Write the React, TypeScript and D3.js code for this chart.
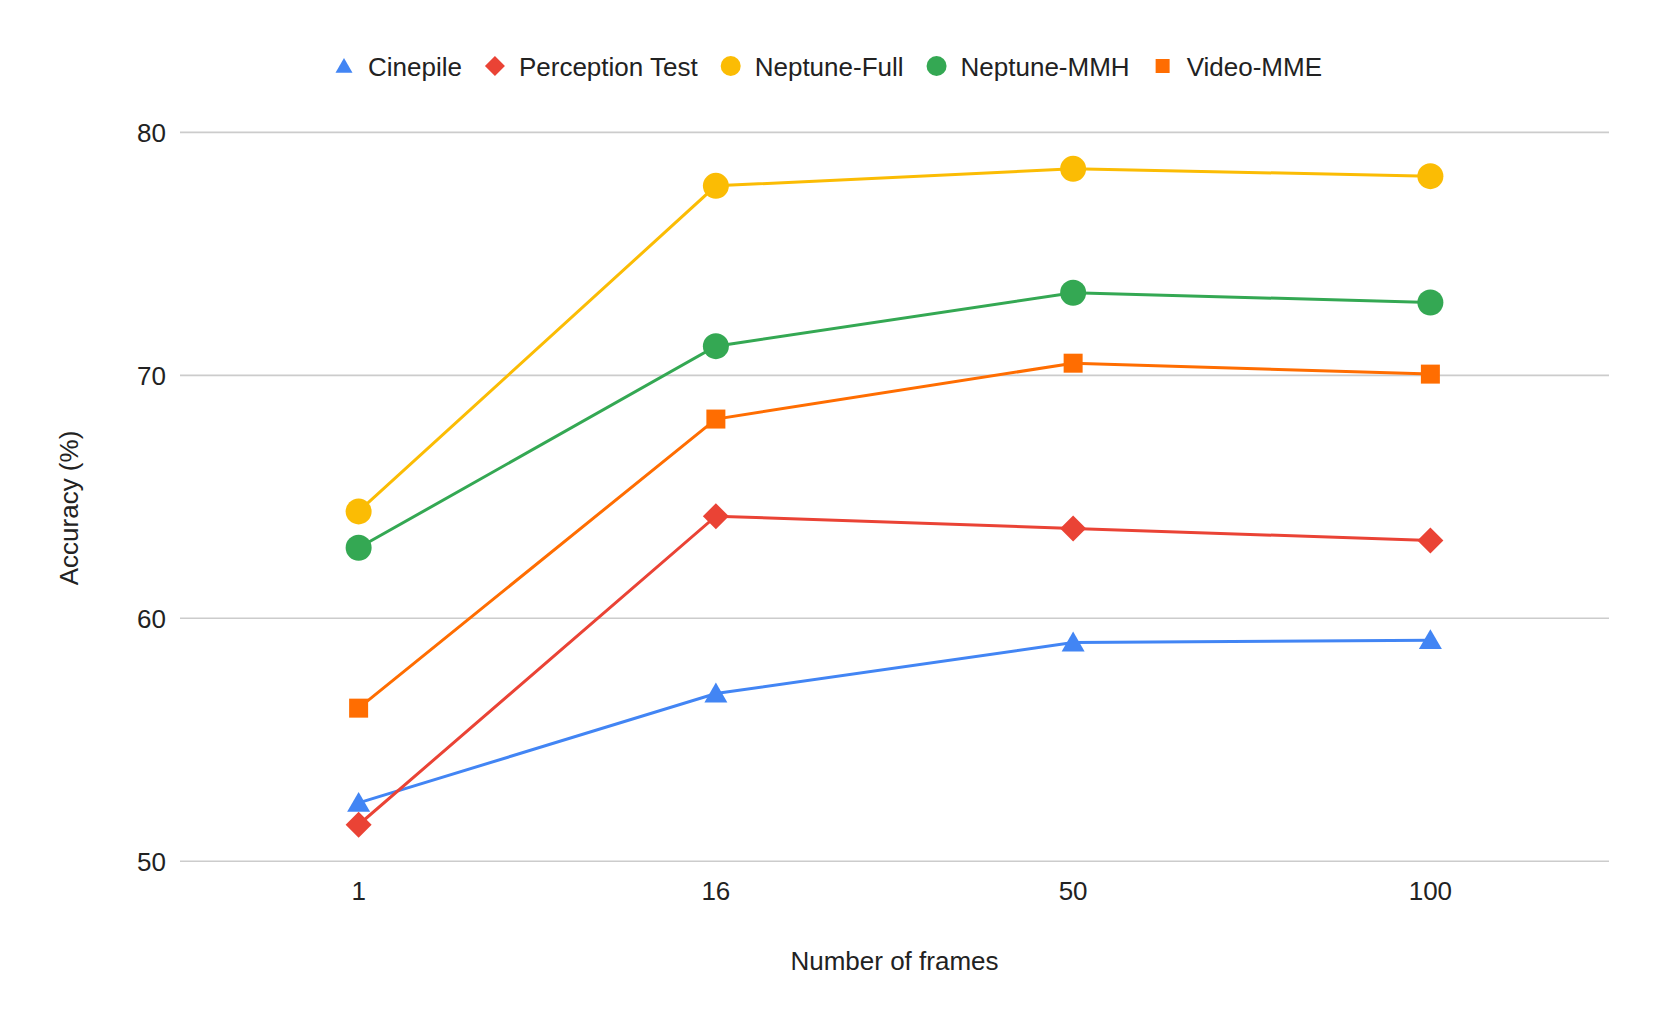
import React, { useRef, useEffect } from 'react';
import * as d3 from 'd3';

const frames = ['1', '16', '50', '100'];
const seriesNames = ['Cinepile', 'Perception Test', 'Neptune-Full', 'Neptune-MMH', 'Video-MME'];
const cinepile = [52.4, 56.9, 59.0, 59.1];
const perceptionTest = [51.5, 64.2, 63.7, 63.2];
const neptuneFull = [64.4, 77.8, 78.5, 78.2];
const neptuneMMH = [62.9, 71.2, 73.4, 73.0];
const videoMME = [56.3, 68.2, 70.5, 70.05];
const yTicks = [50, 60, 70, 80];

const colors = ['#4285F4', '#EA4335', '#FBBC04', '#34A853', '#FF6D01'];
const shapes = ['triangle', 'diamond', 'circle', 'circle', 'square'];

const W = 1661;
const H = 1028;
const FONT = '"Liberation Sans", Arial, sans-serif';
const FS = '26px';

// path for a marker centred on 0,0; size is the full width
const markerPath = (shape: string, size: number) => {
    if (shape === 'circle') return d3.symbol(d3.symbolCircle, Math.PI * (size / 2) ** 2)()!;
    if (shape === 'square') return d3.symbol(d3.symbolSquare, size * size)()!;
    if (shape === 'diamond') {
        const h = size / 2;
        return `M0,${-h}L${h},0L0,${h}L${-h},0Z`;
    }
    const s = size;
    const hgt = (Math.sqrt(3) / 2) * s;
    return `M0,${-hgt * 0.55}L${s / 2},${hgt * 0.45}L${-s / 2},${hgt * 0.45}Z`;
};

const plotSize: Record<string, number> = { triangle: 23, diamond: 26, circle: 26, square: 19 };
const legendSize: Record<string, number> = { triangle: 17, diamond: 20, circle: 20, square: 14 };

const App: React.FC = () => {
    const svgRef = useRef<SVGSVGElement | null>(null);

    useEffect(() => {
        const svg = d3.select(svgRef.current);
        svg.selectAll('*').remove();

        const left = 180;
        const right = 1609;
        const top = 132.4;
        const bottom = 861.2;

        const series = [cinepile, perceptionTest, neptuneFull, neptuneMMH, videoMME].map((values, i) => ({
            name: seriesNames[i],
            color: colors[i],
            shape: shapes[i],
            values,
        }));

        const x = d3.scalePoint().domain(frames).range([left, right]).padding(0.5);
        const y = d3.scaleLinear().domain([50, 80]).range([bottom, top]);

        // gridlines
        svg.append('g')
            .selectAll('line')
            .data(yTicks)
            .enter()
            .append('line')
            .attr('x1', left)
            .attr('x2', right)
            .attr('y1', d => y(d))
            .attr('y2', d => y(d))
            .attr('stroke', '#cccccc')
            .attr('stroke-width', 1.6);

        // y tick labels
        svg.append('g')
            .selectAll('text')
            .data(yTicks)
            .enter()
            .append('text')
            .attr('x', 166)
            .attr('y', d => y(d))
            .attr('dy', '0.36em')
            .attr('text-anchor', 'end')
            .style('font-family', FONT)
            .style('font-size', FS)
            .attr('fill', '#222')
            .text(d => d);

        // x tick labels
        svg.append('g')
            .selectAll('text')
            .data(frames)
            .enter()
            .append('text')
            .attr('x', d => x(d)!)
            .attr('y', bottom + 39)
            .attr('text-anchor', 'middle')
            .style('font-family', FONT)
            .style('font-size', FS)
            .attr('fill', '#222')
            .text(d => d);

        // axis titles
        svg.append('text')
            .attr('x', (left + right) / 2)
            .attr('y', 970)
            .attr('text-anchor', 'middle')
            .style('font-family', FONT)
            .style('font-size', FS)
            .attr('fill', '#222')
            .text('Number of frames');

        svg.append('text')
            .attr('transform', `translate(78,508) rotate(-90)`)
            .attr('text-anchor', 'middle')
            .style('font-family', FONT)
            .style('font-size', FS)
            .attr('fill', '#222')
            .text('Accuracy (%)');

        const line = d3
            .line<number>()
            .x((_, i) => x(frames[i])!)
            .y(d => y(d));

        series.forEach(s => {
            const g = svg.append('g');
            g.append('path')
                .attr('d', line(s.values)!)
                .attr('fill', 'none')
                .attr('stroke', s.color)
                .attr('stroke-width', 3);
            g.selectAll('path.pt')
                .data(s.values)
                .enter()
                .append('path')
                .attr('class', 'pt')
                .attr('d', markerPath(s.shape, plotSize[s.shape]))
                .attr('transform', (d, i) => `translate(${x(frames[i])},${y(d)})`)
                .attr('fill', s.color);
        });

        // legend
        const legend = svg.append('g');
        let cx = 344;
        series.forEach(s => {
            legend
                .append('path')
                .attr('d', markerPath(s.shape, legendSize[s.shape]))
                .attr('transform', `translate(${cx},66)`)
                .attr('fill', s.color);
            const t = legend
                .append('text')
                .attr('x', cx + 24)
                .attr('y', 76)
                .style('font-family', FONT)
                .style('font-size', FS)
                .attr('fill', '#222')
                .text(s.name);
            const len = (t.node() as SVGTextElement).getComputedTextLength();
            cx = cx + 24 + len + 33;
        });
    }, []);

    return (
        <svg
            ref={svgRef}
            width={W}
            height={H}
            style={{ position: 'absolute', left: 0, top: 0, display: 'block', background: '#fff' }}
        />
    );
};

export default App;
